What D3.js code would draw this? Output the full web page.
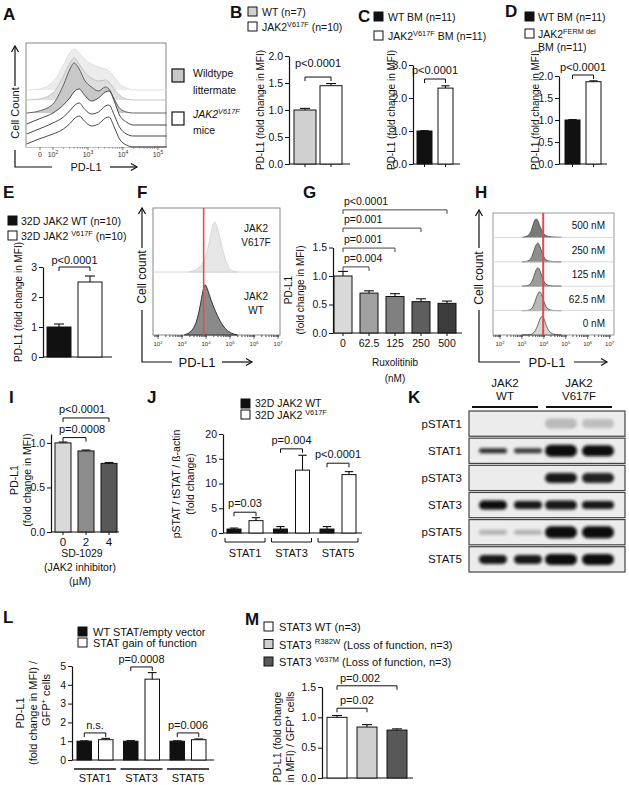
<!DOCTYPE html>
<html><head><meta charset="utf-8">
<script src="https://cdn.jsdelivr.net/npm/d3@7"></script>
<style>body{margin:0;background:#fff}svg{display:block}</style>
</head><body><svg id="c" width="629" height="785"></svg>
<script>
const FONT='"Liberation Sans", Arial, Helvetica, sans-serif';
// ================= DATA =================
// A: flow histograms (biexponential display units; 10^k -> k)
const aTickLabels=["0","10^{2}","10^{3}","10^{4}","10^{5}"];
const aTickUnits=[1.63,2,3,4,5];
const aU=[1.25,1.6,2.0,2.3,2.5,2.6,2.75,2.9,3.1,3.3,3.5,3.6,3.75,3.9,4.1,4.3,4.6,5.25];
const aWT1=[0,1,8,25,38,41,37,31,26,23,21,19,13,6,2,0,0,0];
const aWT2=[0,1,7,24,38,42,36,28,22,19,20,18,11,5,1,0,0,0];
const aWT3=[0,2,9,28,45,50,44,33,26,22,26,24,14,5,1,0,0,0];
const aMut1=[1,6,12,20,28,33,36,30,24,27,33,34,24,10,3,0,0,0];
const aMut2=[2,7,13,19,26,30,33,27,22,24,30,31,21,9,2,0,0,0];
const aMut3=[3,8,13,18,24,28,31,26,21,23,29,30,20,8,2,0,0,0];
const aOffsets=[57,47,34,22,11,0];
// B
const bCats=["WT (n=7)","JAK2^{V617F} (n=10)"];
const bVals=[1.0,1.45], bErr=[0.03,0.04], bTicks=[0,0.5,1,1.5,2], bTickLabels=["0.0","0.5","1.0","1.5","2.0"];
// C
const cCats=["WT BM  (n=11)","JAK2^{V617F} BM (n=11)"];
const cVals=[1.0,2.3], cErr=[0.01,0.07], cTicks=[0,1,2,3], cTickLabels=["0.0","1.0","2.0","3.0"];
// D
const dCats=["WT BM  (n=11)","JAK2^{FERM del}"];
const dVals=[1.0,1.87], dErr=[0.01,0.02], dTicks=[0,0.5,1,1.5,2], dTickLabels=["0.0","0.5","1.0","1.5","2.0"];
// E
const eCats=["32D  JAK2 WT (n=10)","32D JAK2 ^{V617F} (n=10)"];
const eVals=[1.0,2.5], eErr=[0.1,0.2], eTicks=[0,1,2,3], eTickLabels=["0","1","2","3"];
// F: histograms (log10 PD-L1)
const fTopU=[3.3,3.6,3.9,4.1,4.25,4.35,4.45,4.6,4.75,4.9,5.05,5.3];
const fTopH=[0,2,8,25,45,52,47,32,16,6,1,0];
const fBotU=[3.1,3.4,3.6,3.75,3.87,3.95,4.05,4.2,4.4,4.6,4.8,5.0,5.3];
const fBotH=[0,3,12,28,45,52,47,35,23,13,6,2,0];
const fRed=3.9;
// G
const gCats=["0","62.5","125","250","500"];
const gVals=[1.0,0.7,0.64,0.55,0.52], gErr=[0.08,0.04,0.05,0.05,0.04], gTicks=[0,0.5,1,1.5], gTickLabels=["0.0","0.5","1.0","1.5"];
const gP=["p=0.004","p=0.001","p=0.001","p<0.0001"], gPLevel=[1.16,1.49,1.84,2.16];
// H
const hRows=["500 nM","250 nM","125 nM","62.5 nM","0 nM"];
const hU=[3.0,3.2,3.35,3.45,3.55,3.65,3.75,3.85,3.95,4.05,4.15,4.3,4.5,4.8];
const h500=[0,3,12,35,70,85,70,40,20,10,5,3,1,0];
const h250=[0,1,6,20,50,78,85,60,30,12,5,2,0,0];
const h125=[0,1,5,18,45,75,85,62,32,12,5,2,0,0];
const h62=[0,0,2,8,25,55,80,85,55,25,8,2,0,0];
const h0=[0,0,1,3,10,25,50,78,85,60,28,8,1,0];
const hRed=3.97;
// I
const iCats=["0","2","4"];
const iVals=[1.0,0.91,0.77], iErr=[0.01,0.01,0.01], iTicks=[0,0.5,1], iTickLabels=["0.0","0.5","1.0"];
const iP=["p=0.0008","p<0.0001"], iPLevel=[1.06,1.28];
// J
const jGroups=["STAT1","STAT3","STAT5"];
const jWT=[0.8,0.8,0.8], jWTErr=[0.2,0.5,0.5];
const jMut=[2.5,12.7,11.8], jMutErr=[0.6,3.0,0.6];
const jP=["p=0.03","p=0.004","p<0.0001"], jPLevel=[4.2,17,14.1];
const jTicks=[0,5,10,15,20], jTickLabels=["0","5","10","15","20"];
// K: western blot band intensities
const kRows=["pSTAT1","STAT1","pSTAT3","STAT3","pSTAT5","STAT5"];
const kLanes=["WT-1","WT-2","V617F-1","V617F-2"];
const kInt=[[0,0,0.22,0.2],[0.85,0.8,1,1],[0,0,0.95,0.9],[1,0.95,0.95,0.95],[0.25,0.25,1,1],[0.95,0.95,1,1]];
const kBandH=[[0,0,10,9],[5,5,12,11],[0,0,10,10],[9,8,9,8],[5,5,12,12],[9,9,11,11]];
// L
const lGroups=["STAT1","STAT3","STAT5"];
const lWT=[1,1,1], lWTErr=[0.02,0.03,0.02];
const lGOF=[1.08,4.3,1.08], lGOFErr=[0.07,0.35,0.04];
const lP=["n.s.","p=0.0008","p=0.006"], lPLevel=[1.44,4.95,1.44];
const lTicks=[0,1,2,3,4,5], lTickLabels=["0","1","2","3","4","5"];
// M
const mCats=["STAT3 WT (n=3)","STAT3 ^{R382W} (Loss of function, n=3)","STAT3 ^{V637M} (Loss of function, n=3)"];
const mVals=[1.0,0.84,0.79], mErr=[0.03,0.04,0.02], mTicks=[0,0.5,1,1.5], mTickLabels=["0.0","0.5","1.0","1.5"];
const mP=["p=0.02","p=0.002"], mPLevel=[1.15,1.52];

// ================= HELPERS =================
const svg=d3.select("#c");
svg.append("defs").append("filter").attr("id","blur").attr("x","-50%").attr("y","-100%").attr("width","200%").attr("height","300%")
  .append("feGaussianBlur").attr("stdDeviation",1.6);
const INK="#111";
const tickJobs=[];
function rich(g,x,y,str,o={}){
  const size=o.size||10;
  const t=g.append("text").attr("font-size",size).attr("font-family",FONT).attr("fill",o.fill||INK).attr("text-anchor",o.anchor||"start");
  if(o.rotate) t.attr("transform",`translate(${x},${y}) rotate(-90)`); else t.attr("x",x).attr("y",y);
  if(o.italic) t.attr("font-style","italic");
  if(o.bold) t.attr("font-weight","bold");
  if(str.indexOf("^{")<0){t.text(str);return t;}
  let up=false;
  str.split(/(\^\{[^}]*\})/).forEach(p=>{
    if(!p) return;
    const m=p.match(/^\^\{([^}]*)\}$/);
    if(m){t.append("tspan").attr("font-size",size*0.7).attr("dy",-size*0.4).text(m[1]);up=true;}
    else{const s=t.append("tspan").style("white-space","pre").text(p); if(up){s.attr("dy",size*0.4);up=false;}}
  });
  return t;
}
function letter(x,y,s){rich(svg,x,y,s,{size:17,bold:true});}
function line(g,x1,y1,x2,y2,w=1,c=INK){return g.append("line").attr("x1",x1).attr("y1",y1).attr("x2",x2).attr("y2",y2).attr("stroke",c).attr("stroke-width",w);}
function box(g,x,y,fill){g.append("rect").attr("x",x).attr("y",y).attr("width",9).attr("height",9).attr("fill",fill).attr("stroke",INK).attr("stroke-width",1);}
function bracket(g,x1,x2,yp,label,o={}){
  const c=o.color||INK;
  g.append("path").attr("d",`M${x1},${yp+4}V${yp}H${x2}V${yp+4}`).attr("fill","none").attr("stroke",c).attr("stroke-width",1);
  if(label){
    const anchor=o.anchor||"middle";
    const tx=anchor==="middle"?(x1+x2)/2:(x1+(o.dx||0));
    rich(g,tx,yp-(o.dy||4),label,{size:o.size||11,anchor});
  }
}
function errbar(g,cx,y1,y2,cap){line(g,cx,y1,cx,y2,1.1);line(g,cx-cap/2,y2,cx+cap/2,y2,1.1);}
function axisY(g,x0,yScale,ticks,labels){
  const a=g.append("g").attr("transform",`translate(${x0},0)`).call(d3.axisLeft(yScale).tickValues(ticks).tickFormat(()=>"").tickSize(4).tickSizeOuter(0));
  a.select(".domain").attr("stroke",INK).attr("stroke-width",1.2);
  a.selectAll(".tick line").attr("stroke",INK);
  ticks.forEach((t,i)=>tickJobs.push({x:x0-6,y:yScale(t)+3.8,s:labels[i]}));
  return a;
}
function bandScale(cats,left,bw,step){
  return d3.scaleBand().domain(cats).range([left,left+step*(cats.length-1)+bw]).paddingInner(1-bw/step).paddingOuter(0);
}
function barPanel(o){
  const g=svg.append("g");
  const y=d3.scaleLinear().domain(o.dom).range([o.y0,o.yTop]);
  const x=bandScale(o.cats,o.left,o.bw,o.step);
  line(g,o.ax,y(0),o.xEnd,y(0),1.2);
  if(o.xTicks){
    const xa=g.append("g").attr("transform",`translate(0,${y(0)})`).call(d3.axisBottom(x).tickSize(3).tickSizeOuter(0).tickFormat(()=>""));
    xa.select(".domain").remove();
    xa.selectAll(".tick line").attr("stroke",INK);
    if(o.xLabels) o.cats.forEach(c=>rich(g,x(c)+x.bandwidth()/2,y(0)+14,c,{size:o.xLabelSize||10.5,anchor:"middle"}));
  }
  o.cats.forEach((c,i)=>{
    g.append("rect").attr("x",x(c)).attr("y",y(o.vals[i])).attr("width",x.bandwidth()).attr("height",y(0)-y(o.vals[i]))
      .attr("fill",o.fills[i]).attr("stroke",INK).attr("stroke-width",1);
    errbar(g,x(c)+x.bandwidth()/2,y(o.vals[i]),y(o.vals[i]+o.errs[i]),Math.min(10,x.bandwidth()*0.55));
  });
  axisY(g,o.ax,y,o.ticks,o.tickLabels);
  return {g,x,y,cx:c=>x(c)+x.bandwidth()/2};
}
function groupPanel(o){
  const g=svg.append("g");
  const y=d3.scaleLinear().domain(o.dom).range([o.y0,o.yTop]);
  const xg=bandScale(o.groups,o.left,o.gw,o.gstep);
  const xs=d3.scaleBand().domain(["a","b"]).range([0,o.gw]).paddingInner(1-o.bw/(o.gw-o.bw)).paddingOuter(0);
  line(g,o.ax,y(0),o.xEnd,y(0),1.2);
  o.groups.forEach((grp,i)=>{
    [["a",o.wt,o.wtErr,"#111"],["b",o.mut,o.mutErr,"#fff"]].forEach(([k,v,e,f])=>{
      const bx=xg(grp)+xs(k);
      g.append("rect").attr("x",bx).attr("y",y(v[i])).attr("width",xs.bandwidth()).attr("height",y(0)-y(v[i]))
        .attr("fill",f).attr("stroke",INK).attr("stroke-width",1);
      errbar(g,bx+xs.bandwidth()/2,y(v[i]),y(v[i]+e[i]),Math.min(10,xs.bandwidth()*0.6));
    });
  });
  axisY(g,o.ax,y,o.ticks,o.tickLabels);
  return {g,y,xg,xs,ca:grp=>xg(grp)+xs("a")+xs.bandwidth()/2,cb:grp=>xg(grp)+xs("b")+xs.bandwidth()/2};
}
function arrowH(g,x1,x2,y){line(g,x1,y,x2,y,1.2);g.append("path").attr("d",`M${x2-6},${y-3.5}L${x2},${y}L${x2-6},${y+3.5}`).attr("fill","none").attr("stroke",INK).attr("stroke-width",1.2);}
function arrowV(g,x,y1,y2){line(g,x,y1,x,y2,1.2);g.append("path").attr("d",`M${x-3.5},${y2+6}L${x},${y2}L${x+3.5},${y2+6}`).attr("fill","none").attr("stroke",INK).attr("stroke-width",1.2);}

// ================= PANEL A =================
(function(){
  const g=svg.append("g");
  letter(3,20,"A");
  const x=d3.scaleLinear().domain([1.23,5.23]).range([26,166]);
  const y=d3.scaleLinear().domain([0,104]).range([147,43]);
  g.append("rect").attr("x",26).attr("y",43).attr("width",140).attr("height",104).attr("fill","#fff").attr("stroke","#888");
  const curves=[aWT1,aWT2,aWT3,aMut1,aMut2,aMut3];
  const fills=["#ececec","#dedede","#c8c8c8","#fff","#fff","#fff"];
  const strokes=["#dcdcdc","#bdbdbd","#555","#333","#333","#333"];
  curves.forEach((c,k)=>{
    const off=aOffsets[k];
    const idx=d3.range(aU.length);
    g.append("path").datum(idx).attr("d",d3.area().x(i=>x(aU[i])).y0(y(off)).y1(i=>y(off+c[i])).curve(d3.curveMonotoneX)).attr("fill",fills[k]);
    g.append("path").datum(idx).attr("d",d3.line().x(i=>x(aU[i])).y(i=>y(off+c[i])).curve(d3.curveMonotoneX)).attr("fill","none").attr("stroke",strokes[k]).attr("stroke-width",0.9);
  });
  aTickUnits.forEach((u,i)=>{line(g,x(u),147,x(u),150,0.8,"#555");rich(g,x(u),157,aTickLabels[i],{size:7,anchor:"middle",fill:"#333"});});
  [2,3,4].forEach(d=>d3.range(2,10).forEach(k=>{const u=d+Math.log10(k);line(g,x(u),147,x(u),149,0.6,"#777");}));
  arrowV(g,15,86,46);
  rich(g,19,113,"Cell Count",{size:11,anchor:"middle",rotate:true});
  g.append("path").attr("d","M15,150V167H52").attr("fill","none").attr("stroke",INK).attr("stroke-width",1.2);
  rich(g,86,171,"PD-L1",{size:11,anchor:"middle"});
  arrowH(g,110,137,167);
  g.append("rect").attr("x",172).attr("y",69).attr("width",12).attr("height",13).attr("fill","#c8c8c8").attr("stroke",INK).attr("stroke-width",1.2);
  rich(g,193,77,"Wildtype",{size:10.5});
  rich(g,193,94,"littermate",{size:10.5});
  g.append("rect").attr("x",172).attr("y",112).attr("width",12).attr("height",13).attr("fill","#fff").attr("stroke",INK).attr("stroke-width",1.2);
  rich(g,193,118,"JAK2^{V617F}",{size:10.5,italic:true});
  rich(g,193,134,"mice",{size:10.5});
})();

// ================= PANEL B =================
(function(){
  letter(230,18,"B");
  const p=barPanel({ax:289,y0:164,yTop:56,dom:[0,2],ticks:bTicks,tickLabels:bTickLabels,cats:bCats,left:294,bw:22,step:26,vals:bVals,errs:bErr,fills:["#d0d0d0","#fff"],xEnd:350,xTicks:true});
  bracket(p.g,p.cx(bCats[0]),p.cx(bCats[1]),p.y(1.61),"p<0.0001",{dy:10});
  rich(p.g,264,110,"PD-L1 (fold change in MFI)",{size:10,anchor:"middle",rotate:true});
  box(p.g,248,7,"#d0d0d0"); rich(p.g,262,16,bCats[0],{size:10.5});
  box(p.g,248,22,"#fff"); rich(p.g,262,31,bCats[1],{size:10.5});
})();

// ================= PANEL C =================
(function(){
  letter(358,22,"C");
  const p=barPanel({ax:413,y0:164,yTop:65,dom:[0,3],ticks:cTicks,tickLabels:cTickLabels,cats:cCats,left:417,bw:15,step:21,vals:cVals,errs:cErr,fills:["#111","#fff"],xEnd:460,xTicks:true});
  bracket(p.g,p.cx(cCats[0]),p.cx(cCats[1]),79,"p<0.0001",{dy:5});
  rich(p.g,395,110,"PD-L1 (fold change in MFI)",{size:10,anchor:"middle",rotate:true});
  box(p.g,374,12,"#111"); rich(p.g,388,21,cCats[0],{size:10.5});
  box(p.g,374,31,"#fff"); rich(p.g,388,40,cCats[1],{size:10.5});
})();

// ================= PANEL D =================
(function(){
  letter(505,17,"D");
  const p=barPanel({ax:559,y0:164,yTop:76,dom:[0,2],ticks:dTicks,tickLabels:dTickLabels,cats:dCats,left:565,bw:15,step:21,vals:dVals,errs:dErr,fills:["#111","#fff"],xEnd:607,xTicks:true});
  bracket(p.g,p.cx(dCats[0]),p.cx(dCats[1]),75,"p<0.0001",{dy:4});
  rich(p.g,539,110,"PD-L1 (fold change in MFI)",{size:10,anchor:"middle",rotate:true});
  box(p.g,525,12,"#111"); rich(p.g,538,21,dCats[0],{size:10.5});
  box(p.g,525,29,"#fff"); rich(p.g,538,38,dCats[1],{size:10.5});
  rich(p.g,538,51,"BM (n=11)",{size:10.5});
})();

// ================= PANEL E =================
(function(){
  letter(3,198,"E");
  const p=barPanel({ax:43,y0:357,yTop:267,dom:[0,3],ticks:eTicks,tickLabels:eTickLabels,cats:eCats,left:47,bw:24,step:31,vals:eVals,errs:eErr,fills:["#111","#fff"],xEnd:112,xTicks:false});
  bracket(p.g,p.cx(eCats[0]),p.cx(eCats[1]),267,"p<0.0001",{dy:3});
  rich(p.g,22,302,"PD-L1 (fold  change in MFI)",{size:10,anchor:"middle",rotate:true});
  box(p.g,8,216,"#111"); rich(p.g,21,225,eCats[0],{size:10.5});
  box(p.g,8,231,"#fff"); rich(p.g,21,240,eCats[1],{size:10.5});
})();

// ================= PANEL F =================
(function(){
  const g=svg.append("g");
  letter(137,198,"F");
  const x=d3.scaleLog().domain([Math.pow(10,1.79),Math.pow(10,7.08)]).range([153,280]);
  const yT=d3.scaleLinear().domain([0,64]).range([272,208]);
  const yB=d3.scaleLinear().domain([0,63]).range([335,272]);
  g.append("rect").attr("x",153).attr("y",208).attr("width",127).attr("height",127).attr("fill","#fff").attr("stroke","#888");
  line(g,153,272,280,272,0.8,"#ccc");
  const tIdx=d3.range(fTopU.length), bIdx=d3.range(fBotU.length);
  g.append("path").datum(tIdx).attr("d",d3.area().x(i=>x(Math.pow(10,fTopU[i]))).y0(272).y1(i=>yT(fTopH[i])).curve(d3.curveBasis)).attr("fill","#e6e6e6").attr("stroke","#d0d0d0").attr("stroke-width",0.8);
  g.append("path").datum(bIdx).attr("d",d3.area().x(i=>x(Math.pow(10,fBotU[i]))).y0(335).y1(i=>yB(fBotH[i])).curve(d3.curveBasis)).attr("fill","#8a8a8a").attr("stroke","#222").attr("stroke-width",0.9);
  line(g,x(Math.pow(10,fRed)),208,x(Math.pow(10,fRed)),335,1.6,"#d9534f");
  const xa=g.append("g").attr("transform","translate(0,335)").call(d3.axisBottom(x).ticks(6).tickSize(2).tickSizeOuter(0).tickFormat(()=>""));
  xa.select(".domain").remove(); xa.selectAll("line").attr("stroke","#555");
  [2,3,4,5,6,7].forEach(d=>{line(g,x(Math.pow(10,d)),335,x(Math.pow(10,d)),339,0.8,"#555");rich(g,x(Math.pow(10,d)),346,"10^{"+d+"}",{size:6,anchor:"middle",fill:"#333"});});
  rich(g,256,232,"JAK2",{size:10,anchor:"middle"}); rich(g,256,246,"V617F",{size:10,anchor:"middle"});
  rich(g,256,300,"JAK2",{size:10,anchor:"middle"}); rich(g,256,314,"WT",{size:10,anchor:"middle"});
  arrowV(g,142,248,208);
  rich(g,146,277,"Cell count",{size:12,anchor:"middle",rotate:true});
  g.append("path").attr("d","M142,310V362H172").attr("fill","none").attr("stroke",INK).attr("stroke-width",1.2);
  rich(g,197,367,"PD-L1",{size:13,anchor:"middle"});
  arrowH(g,222,252,362);
})();

// ================= PANEL G =================
(function(){
  letter(303,198,"G");
  const p=barPanel({ax:333,y0:333,yTop:247.5,dom:[0,1.5],ticks:gTicks,tickLabels:gTickLabels,cats:gCats,left:334,bw:18,step:26,vals:gVals,errs:gErr,fills:["#d9d9d9","#a0a0a0","#808080","#5e5e5e","#3c3c3c"],xEnd:462,xTicks:true,xLabels:true});
  gP.forEach((t,i)=>bracket(p.g,p.cx(gCats[0]),p.cx(gCats[i+1]),p.y(gPLevel[i]),t,{anchor:"start",dx:1,dy:5,color:"#444",size:10.5}));
  rich(p.g,395,366,"Ruxolitinib",{size:10,anchor:"middle"});
  rich(p.g,395,382,"(nM)",{size:10,anchor:"middle"});
  rich(p.g,292,290,"PD-L1",{size:10,anchor:"middle",rotate:true});
  rich(p.g,304,290,"(fold change in MFI)",{size:10,anchor:"middle",rotate:true});
})();

// ================= PANEL H =================
(function(){
  const g=svg.append("g");
  letter(475,198,"H");
  const x=d3.scaleLog().domain([Math.pow(10,1.68),Math.pow(10,7.2)]).range([493,614]);
  const rowY=d3.scaleBand().domain(hRows).range([213,335]);
  g.append("rect").attr("x",493).attr("y",213).attr("width",121).attr("height",122).attr("fill","#fff").attr("stroke","#999");
  const hs=[h500,h250,h125,h62,h0];
  const hf=["#7a7a7a","#8e8e8e","#9c9c9c","#b8b8b8","#d6d6d6"];
  hRows.forEach((r,k)=>{
    const base=rowY(r)+rowY.bandwidth();
    const y=d3.scaleLinear().domain([0,100]).range([base,base-23]);
    if(k>0) line(g,493,rowY(r),614,rowY(r),0.8,"#cfcfcf");
    g.append("path").datum(d3.range(hU.length)).attr("d",d3.area().x(i=>x(Math.pow(10,hU[i]))).y0(base).y1(i=>y(hs[k][i])).curve(d3.curveBasis))
      .attr("fill",hf[k]).attr("stroke","#333").attr("stroke-width",0.7);
    rich(g,605,base-8,r,{size:10,anchor:"end"});
  });
  line(g,x(Math.pow(10,hRed)),213,x(Math.pow(10,hRed)),335,2,"#e8474a");
  const xa=g.append("g").attr("transform","translate(0,335)").call(d3.axisBottom(x).ticks(6).tickSize(2).tickSizeOuter(0).tickFormat(()=>""));
  xa.select(".domain").remove(); xa.selectAll("line").attr("stroke","#555");
  [2,3,4,5,6,7].forEach(d=>{line(g,x(Math.pow(10,d)),335,x(Math.pow(10,d)),339,0.8,"#555");rich(g,x(Math.pow(10,d)),346,"10^{"+d+"}",{size:6,anchor:"middle",fill:"#333"});});
  arrowV(g,479,248,210);
  rich(g,483,278,"Cell count",{size:12,anchor:"middle",rotate:true});
  g.append("path").attr("d","M479,310V362H520").attr("fill","none").attr("stroke",INK).attr("stroke-width",1.2);
  rich(g,547,367,"PD-L1",{size:13,anchor:"middle"});
  arrowH(g,574,607,362);
})();

// ================= PANEL I =================
(function(){
  letter(9,403,"I");
  const p=barPanel({ax:51,y0:532,yTop:434,dom:[0,1.1],ticks:iTicks,tickLabels:iTickLabels,cats:iCats,left:55,bw:16,step:23,vals:iVals,errs:iErr,fills:["#d9d9d9","#8c8c8c","#585858"],xEnd:119,xTicks:true,xLabels:true,xLabelSize:11.5});
  iP.forEach((t,i)=>bracket(p.g,p.cx(iCats[0]),p.cx(iCats[i+1]),p.y(iPLevel[i]),t,{anchor:"start",dx:-4,dy:5,size:11}));
  rich(p.g,82,557,"SD-1029",{size:10.5,anchor:"middle"});
  rich(p.g,80,571,"(JAK2 inhibitor)",{size:10.5,anchor:"middle"});
  rich(p.g,80,585,"(µM)",{size:10.5,anchor:"middle"});
  rich(p.g,18,480,"PD-L1",{size:10.5,anchor:"middle",rotate:true});
  rich(p.g,31,480,"(fold change in MFI)",{size:10.5,anchor:"middle",rotate:true});
})();

// ================= PANEL J =================
(function(){
  letter(147,403,"J");
  const p=groupPanel({ax:223,y0:533,yTop:434,dom:[0,20],ticks:jTicks,tickLabels:jTickLabels,groups:jGroups,left:227,gw:36,gstep:46.5,bw:14,wt:jWT,wtErr:jWTErr,mut:jMut,mutErr:jMutErr,xEnd:362});
  jGroups.forEach((grp,i)=>{
    bracket(p.g,p.ca(grp),p.cb(grp),p.y(jPLevel[i]),jP[i],{dy:5,size:11});
    const x1=p.xg(grp)-2,x2=p.xg(grp)+36+2;
    p.g.append("path").attr("d",`M${x1},538V542H${x2}V538`).attr("fill","none").attr("stroke",INK).attr("stroke-width",1);
    rich(p.g,(x1+x2)/2,557,grp,{size:11,anchor:"middle"});
  });
  rich(p.g,180,484,"pSTAT / tSTAT / ß-actin",{size:10.5,anchor:"middle",rotate:true});
  rich(p.g,194,484,"(fold change)",{size:10.5,anchor:"middle",rotate:true});
  box(p.g,241,399,"#111"); rich(p.g,255,407,"32D JAK2 WT",{size:10.5});
  box(p.g,241,410,"#fff"); rich(p.g,255,419,"32D JAK2 ^{V617F}",{size:10.5});
})();

// ================= PANEL K =================
(function(){
  const g=svg.append("g");
  letter(408,403,"K");
  rich(g,505,387,"JAK2",{size:11.5,anchor:"middle"}); rich(g,505,400,"WT",{size:11.5,anchor:"middle"});
  rich(g,579,387,"JAK2",{size:11.5,anchor:"middle"}); rich(g,579,400,"V617F",{size:11.5,anchor:"middle"});
  line(g,472,407,538,407,2); line(g,546,407,612,407,2);
  const ry=d3.scaleBand().domain(kRows).range([411,572]).paddingInner(0.07);
  const lx=d3.scalePoint().domain(kLanes).range([493,598]);
  const laneShift=[0,0,-2,0];
  kRows.forEach((r,i)=>{
    const y0=ry(r),h=ry.bandwidth();
    g.append("rect").attr("x",469).attr("y",y0).attr("width",156).attr("height",h).attr("fill","#ececec").attr("stroke","#444").attr("stroke-width",1.2);
    kLanes.forEach((l,j)=>{
      if(kInt[i][j]<=0) return;
      const bh=kBandH[i][j], bw=j<2?28:32, cx=lx(l)+laneShift[j];
      g.append("rect").attr("x",cx-bw/2).attr("y",y0+h/2-bh/2).attr("width",bw).attr("height",bh).attr("rx",bh/2)
        .attr("fill","#0a0a0a").attr("opacity",kInt[i][j]).attr("filter","url(#blur)");
    });
    rich(g,462,y0+h/2+4,r,{size:11.5,anchor:"end"});
  });
})();

// ================= PANEL L =================
(function(){
  letter(3,623,"L");
  const p=groupPanel({ax:72,y0:760,yTop:666,dom:[0,5],ticks:lTicks,tickLabels:lTickLabels,groups:lGroups,left:77,gw:36,gstep:46.5,bw:14.5,wt:lWT,wtErr:lWTErr,mut:lGOF,mutErr:lGOFErr,xEnd:214});
  lGroups.forEach((grp,i)=>{
    bracket(p.g,p.ca(grp),p.cb(grp),p.y(lPLevel[i]),lP[i],{dy:4,size:11});
    line(p.g,p.xg(grp)-3,769,p.xg(grp)+39,769,1.3);
    rich(p.g,p.xg(grp)+18,782,grp,{size:11,anchor:"middle"});
  });
  rich(p.g,24,713,"PD-L1",{size:11,anchor:"middle",rotate:true});
  rich(p.g,37,713,"(fold change in MFI) /",{size:11,anchor:"middle",rotate:true});
  rich(p.g,50,700,"GFP^{+} cells",{size:11,anchor:"middle",rotate:true});
  box(p.g,78,627,"#111"); rich(p.g,93,636,"WT STAT/empty vector",{size:11});
  box(p.g,78,638,"#fff"); rich(p.g,93,647,"STAT gain of function",{size:11});
})();

// ================= PANEL M =================
(function(){
  letter(245,625,"M");
  const p=barPanel({ax:322,y0:778,yTop:687,dom:[0,1.5],ticks:mTicks,tickLabels:mTickLabels,cats:mCats,left:327,bw:20,step:30,vals:mVals,errs:mErr,fills:["#fff","#d0d0d0","#585858"],xEnd:413,xTicks:false});
  mP.forEach((t,i)=>bracket(p.g,p.cx(mCats[0]),p.cx(mCats[i+1]),p.y(mPLevel[i]),t,{anchor:"start",dx:3,dy:4,size:11}));
  const fills=["#fff","#d0d0d0","#585858"];
  mCats.forEach((c,i)=>{box(p.g,264,622+i*17.5,fills[i]); rich(p.g,279,631+i*17.5,c,{size:11});});
  rich(p.g,281,737,"PD-L1 (fold change",{size:10.5,anchor:"middle",rotate:true});
  rich(p.g,294,737,"in MFI) / GFP^{+} cells",{size:10.5,anchor:"middle",rotate:true});
})();

// ================= Y TICK LABELS (overlay) =================
const tl=svg.append("g").attr("id","ticklabels");
tickJobs.forEach(j=>tl.append("text").attr("x",j.x).attr("y",j.y).attr("text-anchor","end").attr("font-size",10.5).attr("font-family",FONT).attr("fill","#111").text(j.s));
</script></body></html>
